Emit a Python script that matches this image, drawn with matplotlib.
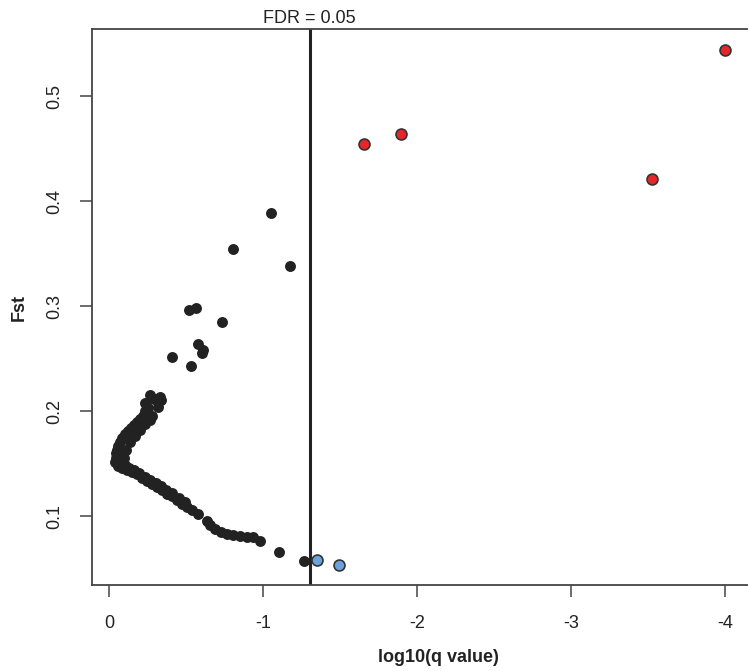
import numpy as np
import matplotlib
matplotlib.use("Agg")
import matplotlib.pyplot as plt

plt.rcParams.update({
    "font.family": ["Liberation Sans", "DejaVu Sans"],
    "axes.unicode_minus": False,
})

# log10(q value) and Fst for the loci
neutral_q = [
    # isolated points
    -1.050, -0.803, -1.171, -0.519, -0.561, -0.730, -0.574, -0.610, -0.600,
    -0.409, -0.531, -1.104, -1.266,
    # top of the upper branch
    -0.264, -0.329, -0.232, -0.336, -0.316, -0.251, -0.290,
    # upper branch
    -0.050, -0.044, -0.044, -0.050, -0.056, -0.069, -0.082, -0.102, -0.121,
    -0.141, -0.160, -0.180, -0.199, -0.219, -0.232,
    -0.096, -0.108, -0.134, -0.167, -0.199, -0.232, -0.264, -0.277,
    # lower branch
    -0.038, -0.056, -0.082, -0.115, -0.147, -0.180, -0.212, -0.245, -0.277,
    -0.310, -0.342, -0.375, -0.407, -0.440, -0.472, -0.505, -0.537, -0.576,
    -0.634, -0.654, -0.686, -0.725, -0.764, -0.803, -0.849, -0.894, -0.933,
    -0.979,
    -0.070, -0.100, -0.130, -0.160, -0.195, -0.230, -0.265, -0.300, -0.335,
    -0.370, -0.410, -0.450, -0.490,
]
neutral_fst = [
    0.3895, 0.3546, 0.3390, 0.2968, 0.2990, 0.2853, 0.2647, 0.2586, 0.2555,
    0.2520, 0.2430, 0.0659, 0.0579,
    0.216, 0.214, 0.208, 0.211, 0.204, 0.203, 0.212,
    0.152, 0.156, 0.160, 0.163, 0.167, 0.171, 0.175, 0.179, 0.181,
    0.184, 0.187, 0.190, 0.193, 0.196, 0.200,
    0.156, 0.163, 0.171, 0.177, 0.182, 0.188, 0.192, 0.196,
    0.152, 0.148, 0.146, 0.144, 0.142, 0.140, 0.137, 0.134, 0.131,
    0.128, 0.125, 0.121, 0.119, 0.116, 0.112, 0.109, 0.106, 0.102,
    0.096, 0.092, 0.088, 0.085, 0.083, 0.082, 0.081, 0.080, 0.080,
    0.077,
    0.152, 0.149, 0.146, 0.144, 0.141, 0.138, 0.135, 0.132, 0.129,
    0.125, 0.122, 0.118, 0.114,
]

# outliers under diversifying selection (red) and balancing (blue)
div_q = [-1.656, -1.892, -3.524, -4.000]
div_fst = [0.455, 0.4645, 0.421, 0.544]
bal_q = [-1.347, -1.492]
bal_fst = [0.0588, 0.054]

FDR = 0.05
x_ticks = [0, -1, -2, -3, -4]
y_ticks = [0.1, 0.2, 0.3, 0.4, 0.5]

W, H = 748, 671
fig = plt.figure(figsize=(W / 100, H / 100), dpi=100)
ax = fig.add_axes([91.5 / W, (H - 585) / H, (784.5 - 91.5) / W, (585 - 29.3) / H])

ax.scatter(neutral_q, neutral_fst, s=62, color="#222222", linewidths=0, zorder=3)
ax.scatter(div_q, div_fst, s=62, facecolor="#e8262a", edgecolor="#333333",
           linewidths=1.2, zorder=4)
ax.scatter(bal_q, bal_fst, s=62, facecolor="#6aa3dc", edgecolor="#333333",
           linewidths=1.2, zorder=4)

thr = np.log10(FDR)
ax.axvline(thr, color="#222222", linewidth=2.2, zorder=2)
ax.annotate(f"FDR = {FDR}", xy=(thr, 1.0), xycoords=("data", "axes fraction"),
            xytext=(0, 4.5), textcoords="offset points",
            ha="center", va="baseline", fontsize=13, color="#222222")

ax.set_xlim(0.1156, -4.384)
ax.set_ylim(0.0347, 0.564)

ax.set_xticks(x_ticks)
ax.set_xticklabels([str(t) for t in x_ticks])
ax.set_yticks(y_ticks)
ax.set_yticklabels([f"{t:.1f}" for t in y_ticks], rotation=90, va="center")
ax.tick_params(axis="both", direction="out", length=8.5, width=1.1,
               color="#444444", labelsize=13, labelcolor="#222222")
ax.tick_params(axis="x", pad=13)
ax.tick_params(axis="y", pad=12)

for sp in ax.spines.values():
    sp.set_linewidth(1.3)
    sp.set_color("#444444")

ax.set_xlabel("log10(q value)", fontsize=13, fontweight="bold", color="#222222")
ax.xaxis.set_label_coords(0.5, -0.1296)
ax.xaxis.label.set_va("center")
ax.set_ylabel("Fst", fontsize=13, fontweight="bold", color="#222222")
ax.yaxis.set_label_coords((19 - 91.5) / 693, 0.5)
ax.yaxis.label.set_va("center")

fig.savefig("out.png", dpi=100, facecolor="white")
